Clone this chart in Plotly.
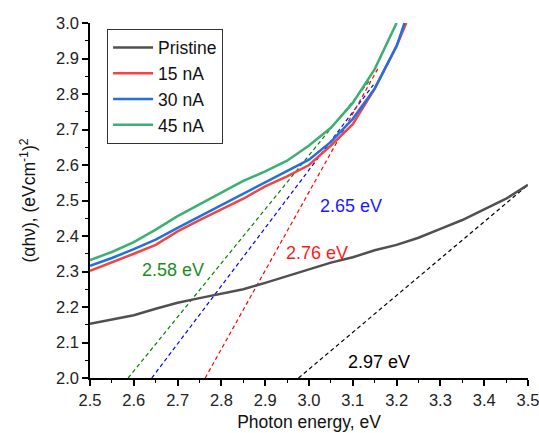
import plotly.graph_objects as go

# ---- data ----
energy_pristine = [2.50, 2.55, 2.60, 2.65, 2.70, 2.75, 2.80, 2.85, 2.90, 2.95, 3.00,
                   3.05, 3.10, 3.15, 3.20, 3.25, 3.30, 3.35, 3.40, 3.45, 3.50]
pristine = [2.153, 2.165, 2.177, 2.195, 2.212, 2.225, 2.238, 2.250, 2.268, 2.287, 2.308,
            2.325, 2.340, 2.360, 2.375, 2.395, 2.420, 2.445, 2.475, 2.505, 2.544]

energy_15 = [2.50, 2.55, 2.60, 2.65, 2.70, 2.75, 2.80, 2.85, 2.90, 2.95, 3.00,
             3.05, 3.10, 3.15, 3.20, 3.222]
na15 = [2.302, 2.325, 2.350, 2.375, 2.413, 2.445, 2.475, 2.505, 2.540, 2.568, 2.600,
        2.655, 2.715, 2.815, 2.935, 3.000]

energy_30 = [2.50, 2.55, 2.60, 2.65, 2.70, 2.75, 2.80, 2.85, 2.90, 2.95, 3.00,
             3.05, 3.10, 3.15, 3.20, 3.218]
na30 = [2.316, 2.338, 2.363, 2.390, 2.423, 2.455, 2.488, 2.520, 2.552, 2.582, 2.615,
        2.665, 2.730, 2.815, 2.935, 3.000]

energy_45 = [2.50, 2.55, 2.60, 2.65, 2.70, 2.75, 2.80, 2.85, 2.90, 2.95, 3.00,
             3.05, 3.10, 3.15, 3.20]
na45 = [2.332, 2.355, 2.383, 2.418, 2.456, 2.490, 2.522, 2.555, 2.582, 2.612, 2.655,
        2.705, 2.775, 2.870, 3.000]

# tangent (Tauc) lines: [start, end]
tan_pristine_x = [2.976, 3.50]
tan_pristine_y = [2.0, 2.544]
tan_15_x = [2.763, 3.158]
tan_15_y = [2.0, 2.873]
tan_30_x = [2.641, 3.147]
tan_30_y = [2.0, 2.826]
tan_45_x = [2.587, 3.140]
tan_45_y = [2.0, 2.840]

band_labels = ["2.58 eV", "2.65 eV", "2.76 eV", "2.97 eV"]
label_x = [2.69, 3.096, 3.019, 3.16]
label_y = [2.304, 2.485, 2.351, 2.045]
label_colors = ["#1e8c1e", "#1a1aff", "#ff1a1a", "#000000"]

FONT = "Arial, Liberation Sans, sans-serif"

fig = go.Figure()

# dashed tangents (drawn first, under curves)
for tx, ty, col in [(tan_45_x, tan_45_y, "#008000"), (tan_30_x, tan_30_y, "#0000ff"),
                    (tan_15_x, tan_15_y, "#ff0000"), (tan_pristine_x, tan_pristine_y, "#000000")]:
    fig.add_trace(go.Scatter(x=tx, y=ty, mode="lines", showlegend=False,
                             line=dict(color=col, width=1.2, dash="4px,3px")))

series = [
    ("Pristine", energy_pristine, pristine, "#505050"),
    ("15 nA", energy_15, na15, "#f24444"),
    ("30 nA", energy_30, na30, "#2070e0"),
    ("45 nA", energy_45, na45, "#3cb070"),
]
for name, x, y, col in series:
    fig.add_trace(go.Scatter(x=x, y=y, mode="lines", name=name,
                             line=dict(color=col, width=2.5)))

for t, x, y, c in zip(band_labels, label_x, label_y, label_colors):
    fig.add_annotation(x=x, y=y, text=t, showarrow=False,
                       font=dict(size=18, color=c, family=FONT))

axis_common = dict(
    showline=True, linecolor="black", linewidth=1.5, mirror=False,
    ticks="outside", ticklen=6, tickwidth=1.5, tickcolor="black",
    showgrid=False, zeroline=False, ticklabeloverflow="allow",
    tickfont=dict(size=16.5, color="#222", family=FONT),
    minor=dict(ticks="outside", ticklen=3, tickwidth=1.2, tickcolor="black", dtick=0.05),
)

fig.update_xaxes(range=[2.5, 3.5], dtick=0.1, tick0=2.5, tickformat=".1f",
                 title=dict(text="Photon energy, eV", font=dict(size=17.5, color="#111", family=FONT),
                            standoff=8),
                 **axis_common)
fig.update_yaxes(range=[2.0, 3.0], dtick=0.1, tick0=2.0, tickformat=".1f",
                 title=dict(text="(αhν), (eVcm<sup>-1</sup>)<sup>2</sup>",
                            font=dict(size=17.5, color="#111", family=FONT), standoff=16),
                 **axis_common)

fig.update_layout(
    width=539, height=433,
    margin=dict(l=90, r=11, t=23, b=55, autoexpand=False),
    paper_bgcolor="white", plot_bgcolor="white",
    font=dict(family=FONT),
    legend=dict(x=0.039, y=0.984, xanchor="left", yanchor="top",
                bgcolor="white", bordercolor="#333", borderwidth=1,
                font=dict(size=17.5, color="#111", family=FONT),
                tracegroupgap=0, itemwidth=40),
)

fig.write_html("out.html")
